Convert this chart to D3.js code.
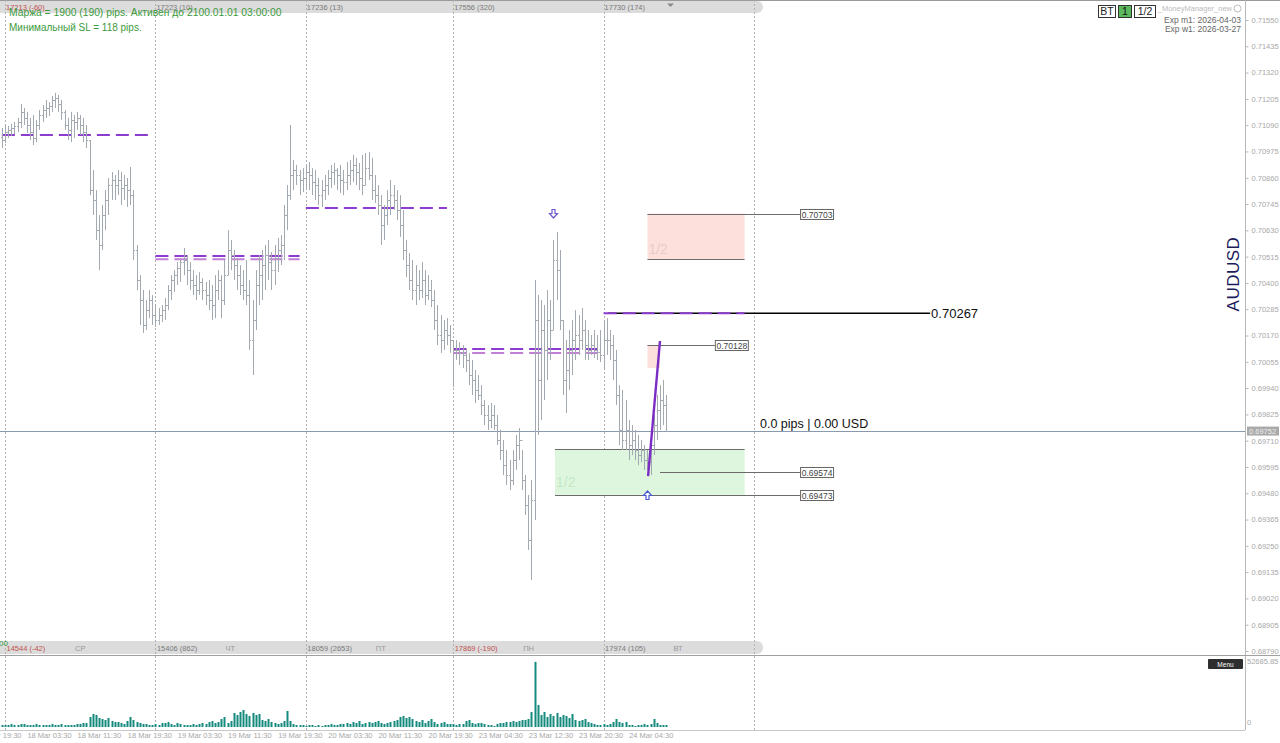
<!DOCTYPE html>
<html><head><meta charset="utf-8">
<script src="https://cdn.jsdelivr.net/npm/d3@7"></script>
<style>body{margin:0;background:#fff;} svg{display:block;font-family:"Liberation Sans",Arial,sans-serif;}</style>
</head><body><svg id="c" width="1280" height="743"></svg>
<script>
// ---------- DATA ----------
const firstOpen = 0.71040;
const highs = [0.71078,0.71091,0.71087,0.71096,0.71104,0.71122,0.71183,0.71165,0.71148,0.71122,0.71134,0.71113,0.71156,0.71178,0.71200,0.71191,0.71218,0.71231,0.71222,0.71200,
0.71156,0.71122,0.71148,0.71134,0.71148,0.71134,0.71122,0.71091,0.71025,0.70894,0.70806,0.70697,0.70741,0.70806,0.70859,0.70885,0.70872,0.70894,0.70885,0.70872,
0.70859,0.70907,0.70806,0.70566,0.70434,0.70369,0.70325,0.70369,0.70347,0.70303,0.70290,0.70303,0.70334,0.70391,0.70434,0.70456,0.70491,0.70509,0.70553,0.70522,
0.70491,0.70456,0.70434,0.70447,0.70421,0.70404,0.70413,0.70391,0.70434,0.70456,0.70434,0.70500,0.70631,0.70588,0.70544,0.70509,0.70478,0.70456,0.70500,0.70413,
0.70325,0.70456,0.70522,0.70544,0.70566,0.70588,0.70535,0.70566,0.70597,0.70609,0.70741,0.70828,0.71091,0.70938,0.70916,0.70894,0.70902,0.70916,0.70929,0.70902,
0.70894,0.70859,0.70850,0.70872,0.70894,0.70916,0.70925,0.70902,0.70916,0.70894,0.70929,0.70938,0.70960,0.70947,0.70925,0.70960,0.70968,0.70972,0.70947,0.70872,
0.70828,0.70784,0.70741,0.70806,0.70850,0.70828,0.70806,0.70784,0.70719,0.70588,0.70531,0.70500,0.70478,0.70456,0.70491,0.70456,0.70434,0.70413,0.70369,0.70303,
0.70259,0.70238,0.70246,0.70216,0.70150,0.70150,0.70141,0.70128,0.70115,0.70094,0.70063,0.70019,0.69997,0.69953,0.69888,0.69866,0.69875,0.69866,0.69822,0.69757,
0.69713,0.69669,0.69625,0.69669,0.69735,0.69765,0.69669,0.69560,0.69473,0.69538,0.70413,0.70347,0.70325,0.70303,0.70369,0.70325,0.70588,0.70623,0.70544,0.70238,
0.70150,0.70194,0.70238,0.70281,0.70259,0.70290,0.70238,0.70194,0.70172,0.70194,0.70172,0.70194,0.70238,0.70246,0.70194,0.70172,0.70107,0.69953,0.69932,0.69888,
0.69800,0.69778,0.69757,0.69735,0.69713,0.69691,0.69669,0.69713,0.69822,0.69910,0.69953,0.69975,0.69910];
const lows = [0.70990,0.71012,0.71034,0.71043,0.71051,0.71060,0.71078,0.71091,0.71056,0.71025,0.71003,0.71016,0.71069,0.71104,0.71122,0.71130,0.71148,0.71165,0.71148,0.71113,
0.71069,0.71025,0.71016,0.71034,0.71069,0.71047,0.71016,0.70990,0.70784,0.70697,0.70588,0.70456,0.70544,0.70631,0.70697,0.70763,0.70763,0.70784,0.70741,0.70763,
0.70732,0.70741,0.70500,0.70369,0.70216,0.70181,0.70194,0.70246,0.70216,0.70207,0.70216,0.70229,0.70238,0.70281,0.70325,0.70360,0.70391,0.70404,0.70434,0.70391,
0.70369,0.70347,0.70325,0.70347,0.70325,0.70303,0.70281,0.70238,0.70246,0.70325,0.70246,0.70303,0.70434,0.70456,0.70413,0.70369,0.70347,0.70325,0.70303,0.70107,
0.69997,0.70194,0.70303,0.70325,0.70369,0.70413,0.70369,0.70391,0.70447,0.70478,0.70500,0.70631,0.70763,0.70806,0.70828,0.70784,0.70797,0.70815,0.70806,0.70784,
0.70763,0.70741,0.70732,0.70763,0.70784,0.70815,0.70828,0.70806,0.70793,0.70784,0.70806,0.70828,0.70841,0.70828,0.70806,0.70784,0.70828,0.70850,0.70763,0.70750,
0.70697,0.70566,0.70588,0.70653,0.70697,0.70719,0.70675,0.70601,0.70500,0.70425,0.70369,0.70325,0.70303,0.70325,0.70334,0.70303,0.70325,0.70294,0.70194,0.70128,
0.70094,0.70107,0.70128,0.70094,0.69944,0.70063,0.70041,0.70028,0.70010,0.69953,0.69910,0.69875,0.69888,0.69822,0.69778,0.69757,0.69765,0.69757,0.69691,0.69625,
0.69560,0.69516,0.69494,0.69516,0.69582,0.69625,0.69494,0.69385,0.69232,0.69101,0.69363,0.69735,0.69800,0.69888,0.69975,0.70063,0.70194,0.70325,0.70194,0.69910,
0.69831,0.69932,0.69997,0.70063,0.70085,0.70107,0.70063,0.70063,0.70085,0.70072,0.70063,0.70054,0.70019,0.70085,0.70063,0.69975,0.69866,0.69691,0.69669,0.69669,
0.69625,0.69647,0.69625,0.69603,0.69616,0.69582,0.69582,0.69560,0.69647,0.69713,0.69757,0.69778,0.69748];
const closes = [0.71025,0.71060,0.71069,0.71078,0.71087,0.71104,0.71148,0.71122,0.71091,0.71060,0.71034,0.71091,0.71134,0.71156,0.71165,0.71174,0.71200,0.71209,0.71183,0.71148,
0.71091,0.71069,0.71113,0.71104,0.71122,0.71091,0.71060,0.71025,0.70806,0.70763,0.70631,0.70566,0.70697,0.70763,0.70828,0.70850,0.70828,0.70850,0.70815,0.70828,
0.70806,0.70784,0.70544,0.70413,0.70325,0.70216,0.70281,0.70325,0.70259,0.70238,0.70259,0.70281,0.70303,0.70369,0.70413,0.70434,0.70465,0.70491,0.70500,0.70456,
0.70413,0.70391,0.70369,0.70404,0.70369,0.70347,0.70325,0.70303,0.70369,0.70413,0.70325,0.70434,0.70544,0.70522,0.70478,0.70434,0.70391,0.70369,0.70347,0.70150,
0.70238,0.70391,0.70434,0.70478,0.70522,0.70491,0.70456,0.70509,0.70544,0.70566,0.70697,0.70784,0.70872,0.70894,0.70872,0.70850,0.70859,0.70885,0.70872,0.70841,
0.70828,0.70784,0.70806,0.70828,0.70859,0.70885,0.70894,0.70872,0.70850,0.70841,0.70872,0.70894,0.70916,0.70885,0.70859,0.70828,0.70902,0.70872,0.70806,0.70784,
0.70741,0.70653,0.70697,0.70763,0.70784,0.70763,0.70719,0.70653,0.70544,0.70478,0.70413,0.70369,0.70391,0.70369,0.70413,0.70347,0.70369,0.70325,0.70238,0.70172,
0.70150,0.70194,0.70172,0.70150,0.70107,0.70107,0.70098,0.70085,0.70063,0.69997,0.69975,0.69932,0.69910,0.69866,0.69822,0.69800,0.69822,0.69778,0.69713,0.69669,
0.69603,0.69560,0.69538,0.69625,0.69691,0.69713,0.69538,0.69429,0.69276,0.69451,0.70238,0.69975,0.70194,0.70107,0.70238,0.70194,0.70500,0.70456,0.70238,0.69975,
0.70019,0.70107,0.70150,0.70172,0.70150,0.70194,0.70128,0.70107,0.70128,0.70107,0.70098,0.70085,0.70150,0.70150,0.70128,0.70063,0.69910,0.69757,0.69713,0.69757,
0.69691,0.69713,0.69669,0.69647,0.69669,0.69625,0.69616,0.69691,0.69778,0.69844,0.69888,0.69866,0.69752];
const volumes = [1600,1600,1600,2400,1600,1600,2400,2400,1600,1600,1600,2400,1600,1600,1600,1600,2400,1600,1600,2400,1600,1600,1600,1600,2400,
2400,3200,3200,8000,10400,9600,7200,6400,5600,7200,4800,4000,4000,3200,2400,4800,8000,5600,4000,3200,2400,2400,1600,1600,
2400,1600,3200,3200,4000,2400,1600,3200,2400,1600,1600,1600,2400,1600,2400,3200,2400,4000,4800,3200,4000,6400,8000,3200,
4800,11200,9600,12000,13600,10400,8800,11200,9600,10400,5600,4800,6400,4000,3200,2400,3200,4800,12800,4800,2400,1600,1600,
1600,800,1600,1600,800,1600,800,1600,1600,2400,1600,1600,2400,2400,3200,2400,4000,3200,4800,2400,3200,4000,3200,4000,4800,3200,2400,
3200,4000,4800,5600,8000,8800,7200,8000,6400,4800,4000,5600,3200,4800,6400,4000,2400,3200,4000,2400,2400,
2400,1600,2400,2400,4800,5600,3200,2400,3200,3200,2400,1600,1600,800,2400,3200,3200,4000,4000,4800,4000,4800,5600,5600,6400,
12000,52000,17600,9600,12000,8000,10400,8800,11200,8000,9600,8800,7200,10400,5600,4800,5600,6400,4000,3200,2400,1600,1600,
2400,1600,2400,4000,6400,4000,3200,4000,1600,1600,800,1600,1600,2400,1600,2400,6400,3200,1600,1600,1600];

const priceTickLabels = ["0.68790","0.68905","0.69020","0.69135","0.69250","0.69365","0.69480","0.69595","0.69710","0.69825","0.69940","0.70055","0.70170","0.70285","0.70400","0.70515","0.70630","0.70745","0.70860","0.70975","0.71090","0.71205","0.71320","0.71435","0.71550"];
const timeLabelIdx = [-8,8,24,40,56,72,88,104,120,136,152,168,184,200];
const timeLabels = ["17 Mar 19:30","18 Mar 03:30","18 Mar 11:30","18 Mar 19:30","19 Mar 03:30","19 Mar 11:30","19 Mar 19:30","20 Mar 03:30","20 Mar 11:30","20 Mar 19:30","23 Mar 04:30","23 Mar 12:30","23 Mar 20:30","24 Mar 04:30"];
const daySepIdx = [1,49,97,144,192,240];
const topBandLabels = ["17213 (-60)","17223 (10)","17236 (13)","17556 (320)","17730 (174)"];
const bottomBandLabels = ["14544 (-42)","15406 (862)","18059 (2653)","17869 (-190)","17974 (105)"];
const dayNames = ["СР","ЧТ","ПТ","ПН","ВТ"];
const levelStart = [0,49,97,144,192];
const levelEnd = [47,95,142,190,237];
const levelMain = [0.71047,0.70518,0.70728,0.70111,0.70267];
const levelSecond = [null,0.70504,null,0.70094,null];
const currentPrice = 0.69752;
const volMax = 52685.85;

// ---------- SCALES ----------
const svg = d3.select("#c");
const x = d3.scaleLinear().domain([1,240]).range([5,754]);
const y = d3.scaleLinear().domain([0.68790,0.71550]).range([651,20]);
const yv = d3.scaleLinear().domain([0,volMax]).range([727,661]);
const AX = 1245;
const px = v => Math.round(x(v)) + 0.5;

// top border
svg.append("line").attr("x1",0).attr("x2",1280).attr("y1",0.5).attr("y2",0.5).attr("stroke","#9a9a9a");

// bands
svg.append("rect").attr("x",-10).attr("y",1).attr("width",773).attr("height",12).attr("rx",6).attr("fill","#dcdcdc");
svg.append("rect").attr("x",-10).attr("y",641).attr("width",773).attr("height",13).attr("rx",6).attr("fill","#dcdcdc");

// day separators
svg.append("g").selectAll("line").data(daySepIdx).join("line")
  .attr("x1",d=>px(d)).attr("x2",d=>px(d)).attr("y1",0).attr("y2",730)
  .attr("stroke","#b0b0b0").attr("stroke-dasharray","2,2");

// band texts
const bt = svg.append("g").attr("font-size",7.5);
topBandLabels.forEach((t,i)=>{
  bt.append("text").attr("x",x(daySepIdx[i])+1).attr("y",9.5).text(t)
    .attr("fill", t.includes("(-")?"#c0504d":"#7a7a7a");
});
bottomBandLabels.forEach((t,i)=>{
  bt.append("text").attr("x",x(daySepIdx[i])+1.5).attr("y",651).text(t)
    .attr("fill", t.includes("(-")?"#c0504d":"#7a7a7a");
  bt.append("text").attr("x",x(daySepIdx[i])+70).attr("y",651).text(dayNames[i]).attr("fill","#9a9a9a");
});
svg.append("path").attr("d","M667,3.5 L674,3.5 L670.5,7 Z").attr("fill","#8a8a8a");
svg.append("text").attr("x",-1).attr("y",646).attr("font-size",8).attr("fill","#3c9a3c").text("00");

// level lines
levelMain.forEach((v,i)=>{
  if(i===4){
    svg.append("line").attr("x1",x(193.4)).attr("x2",x(296.2)).attr("y1",y(v)).attr("y2",y(v)).attr("stroke","#000").attr("stroke-width",1.6);
  }
  svg.append("line").attr("x1",x(levelStart[i])).attr("x2",x(levelEnd[i])).attr("y1",y(v)).attr("y2",y(v))
    .attr("stroke","#8e3cd0").attr("stroke-width",2).attr("stroke-dasharray","13,6");
  if(levelSecond[i]!==null){
    svg.append("line").attr("x1",x(levelStart[i])).attr("x2",x(levelEnd[i])).attr("y1",y(levelSecond[i])).attr("y2",y(levelSecond[i]))
      .attr("stroke","#c27fd6").attr("stroke-width",2).attr("stroke-dasharray","13,6");
  }
});

// boxes
const boxLine = "#6b6b6b";
svg.append("rect").attr("x",x(206)).attr("y",y(0.70703)).attr("width",x(237)-x(206)).attr("height",y(0.70505)-y(0.70703)).attr("fill","#fde0dc");
svg.append("rect").attr("x",x(206)).attr("y",y(0.70128)).attr("width",x(210)-x(206)).attr("height",y(0.70028)-y(0.70128)).attr("fill","#fde0dc");
svg.append("rect").attr("x",x(176.5)).attr("y",y(0.69673)).attr("width",x(237)-x(176.5)).attr("height",y(0.69473)-y(0.69673)).attr("fill","#ddf6dd");
svg.append("text").attr("x",x(206)+1).attr("y",y(0.70505)-5).attr("font-size",14).attr("fill","#eacbc6").text("1/2");
svg.append("text").attr("x",x(176.5)+1).attr("y",y(0.69473)-8).attr("font-size",14).attr("fill","#c6e6c6").text("1/2");
const hl = (a,b,v)=>svg.append("line").attr("x1",x(a)).attr("x2",x(b)).attr("y1",Math.round(y(v))+0.5).attr("y2",Math.round(y(v))+0.5).attr("stroke",boxLine).attr("stroke-width",1);
hl(206,254.7,0.70703); hl(206,237,0.70505);
hl(206,227.5,0.70128);
hl(176.5,237,0.69673); hl(176.5,254.7,0.69473);
hl(210,254.7,0.69574);

// current price line
svg.append("line").attr("x1",0).attr("x2",AX).attr("y1",Math.round(y(currentPrice))+0.5).attr("y2",Math.round(y(currentPrice))+0.5).attr("stroke","#8a9aae").attr("stroke-width",1);

// OHLC bars
const bars = svg.append("g").attr("stroke","#a2a9b0").attr("stroke-width",1);
highs.forEach((h,i)=>{
  const o = i===0?firstOpen:closes[i-1];
  const xx = px(i);
  bars.append("line").attr("x1",xx).attr("x2",xx).attr("y1",y(h)).attr("y2",y(lows[i]));
  bars.append("line").attr("x1",xx-1.5).attr("x2",xx).attr("y1",Math.round(y(o))+0.5).attr("y2",Math.round(y(o))+0.5);
  bars.append("line").attr("x1",xx).attr("x2",xx+1.5).attr("y1",Math.round(y(closes[i]))+0.5).attr("y2",Math.round(y(closes[i]))+0.5);
});

// purple trend segment
svg.append("line").attr("x1",x(206.2)).attr("y1",y(0.69555)).attr("x2",x(210)).attr("y2",y(0.70146)).attr("stroke","#7a2cc4").attr("stroke-width",2.4);

// arrows (hollow block arrows)
function arrow(idx, v, down, color){
  const cx = Math.round(x(idx)) + 0.5, cy = Math.round(y(v)) + 0.5;
  const d = down
    ? `M${cx-1.5},${cy-5} h3 v4 h2.5 l-4,4.5 l-4,-4.5 h2.5 Z`
    : `M${cx-1.5},${cy+5} h3 v-4 h2.5 l-4,-4.5 l-4,4.5 h2.5 Z`;
  svg.append("path").attr("d",d).attr("fill","#fff").attr("stroke",color).attr("stroke-width",1.2);
}
arrow(175.9,0.70702,true,"#6a5ad0");
arrow(205.9,0.69477,false,"#4a5ad0");

// price label boxes
function tag(idx,v){
  const g = svg.append("g").attr("transform",`translate(${x(idx)},${Math.round(y(v))})`);
  g.append("rect").attr("x",0.5).attr("y",-4.5).attr("width",33).attr("height",10).attr("fill","#fff").attr("stroke","#666");
  g.append("text").attr("x",17).attr("y",3.5).attr("text-anchor","middle").attr("font-size",8.5).attr("fill","#444").text(v.toFixed(5));
}
tag(254.7,0.70703); tag(227.5,0.70128); tag(254.7,0.69574); tag(254.7,0.69473);

svg.append("text").attr("x",x(296.2)+1).attr("y",y(0.70267)+5).attr("font-size",13).attr("fill","#111").text("0.70267");
svg.append("text").attr("x",760).attr("y",y(currentPrice)-3).attr("font-size",12.5).attr("fill","#111").text("0.0 pips | 0.00 USD");

// price axis
const ax = svg.append("g").attr("transform",`translate(${AX+0.5},0)`)
  .call(d3.axisRight(y).tickValues(priceTickLabels.map(Number)).tickFormat((d,i)=>priceTickLabels[i]).tickSize(3).tickPadding(3));
ax.select(".domain").attr("stroke","#b8b8b8").attr("d","M0,0V655");
ax.selectAll(".tick line").attr("stroke","#b8b8b8");
ax.selectAll("text").attr("fill","#a8a8a8").attr("font-size",7.5).attr("font-family","Liberation Sans, Arial");

// current price tag
svg.append("rect").attr("x",AX+2).attr("y",y(currentPrice)-4.5).attr("width",32).attr("height",9).attr("fill","#a9a9a9");
svg.append("text").attr("x",AX+4).attr("y",y(currentPrice)+3).attr("font-size",7.5).attr("fill","#eee").text(currentPrice.toFixed(5));

// panel separator
svg.append("line").attr("x1",0).attr("x2",1280).attr("y1",655.5).attr("y2",655.5).attr("stroke","#a0a0a0");
svg.append("line").attr("x1",AX+0.5).attr("x2",AX+0.5).attr("y1",656).attr("y2",730).attr("stroke","#b8b8b8");
svg.append("line").attr("x1",0).attr("x2",AX).attr("y1",730.5).attr("y2",730.5).attr("stroke","#c8c8c8");

// volume bars
svg.append("g").selectAll("rect").data(volumes).join("rect")
  .attr("x",(d,i)=>Math.round(x(i))-0.5).attr("width",2)
  .attr("y",d=>yv(d)).attr("height",d=>yv(0)-yv(d)).attr("fill","#178a7e");
svg.append("text").attr("x",AX+2).attr("y",664).attr("font-size",7.5).attr("fill","#a8a8a8").text(volMax.toFixed(2));
svg.append("text").attr("x",AX+2).attr("y",725).attr("font-size",7.5).attr("fill","#a8a8a8").text("0");
svg.append("rect").attr("x",1208).attr("y",659).attr("width",35).attr("height",10).attr("rx",1).attr("fill","#2e2e2e");
svg.append("text").attr("x",1225.5).attr("y",666.5).attr("text-anchor","middle").attr("font-size",6.5).attr("fill","#fff").text("Menu");

// time axis
const ta = svg.append("g").attr("transform","translate(0,731)")
  .call(d3.axisBottom(x).tickValues(timeLabelIdx).tickFormat((d,i)=>timeLabels[i]).tickSize(0).tickPadding(2));
ta.select(".domain").remove();
ta.selectAll("text").attr("text-anchor","start").attr("fill","#a8a8a8").attr("font-size",7.5).attr("font-family","Liberation Sans, Arial").attr("dy","0.6em");

// top-left green texts
svg.append("text").attr("x",9).attr("y",16).attr("font-size",10.3).attr("fill","#3c9a3c").text("Маржа = 1900 (190) pips. Активен до 2100.01.01 03:00:00");
svg.append("text").attr("x",9).attr("y",31).attr("font-size",10).attr("fill","#3c9a3c").text("Минимальный SL = 118 pips.");

// top-right UI
const ui = svg.append("g");
[["BT",1098,17,"#fff","#222"],["1",1118,13,"#5cb85c","#111"],["1/2",1134,21,"#fff","#222"]].forEach(([t,xx,w,f,c])=>{
  ui.append("rect").attr("x",xx+0.5).attr("y",5.5).attr("width",w).attr("height",12).attr("fill",f).attr("stroke","#333");
  ui.append("text").attr("x",xx+w/2+0.5).attr("y",15).attr("text-anchor","middle").attr("font-size",10.5).attr("fill",c).text(t);
});
ui.append("text").attr("x",1232).attr("y",11).attr("text-anchor","end").attr("font-size",7.5).attr("fill","#bbb").text("_MoneyManager_new");
ui.append("circle").attr("cx",1237.5).attr("cy",8.5).attr("r",3.5).attr("fill","none").attr("stroke","#bbb");
ui.append("text").attr("x",1241).attr("y",23).attr("text-anchor","end").attr("font-size",8.5).attr("fill","#666").text("Exp m1: 2026-04-03");
ui.append("text").attr("x",1241).attr("y",32).attr("text-anchor","end").attr("font-size",8.5).attr("fill","#666").text("Exp w1: 2026-03-27");

// symbol
svg.append("text").attr("transform","translate(1239,274) rotate(-90)").attr("text-anchor","middle")
  .attr("font-size",17).attr("fill","#1c1c5c").attr("letter-spacing",0.5).text("AUDUSD");
</script></body></html>
